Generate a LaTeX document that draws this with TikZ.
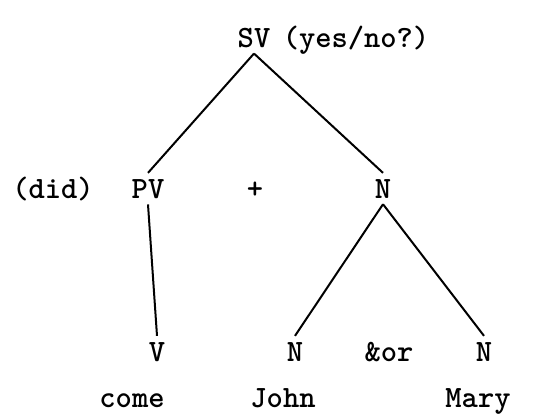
\documentclass[tikz,border=0pt]{standalone}
\usepackage{fontspec}
\usepackage{tikz}
\usetikzlibrary{positioning}
\tikzset{
  word/.style={font=\ttfamily\bfseries\fontsize{31}{37}\selectfont, anchor=base, inner sep=0pt},
  cat/.style={word, inner sep=6pt},
  branch/.style={line width=2pt, black},
}

\begin{document}
\begin{tikzpicture}[x=1pt,y=-1pt]
 \useasboundingbox (0,0) rectangle (553,415);
 % top
 \node[cat] (sv) at (254,47) {SV};
 \node[word] (svq) at (356,47) {(yes/no?)};
 % middle row
 \node[word] (did) at (53,198) {(did)};
 \node[cat] (pv) at (148,198) {PV};
 \node[word] (plus) at (255,198) {+};
 \node[cat] (n) at (383,198) {N};
 % bottom row
 \node[cat] (v) at (157,361) {V};
 \node[cat] (na) at (295,361) {N};
 \node[word] (andor) at (389,361) {\&or};
 \node[cat] (nb) at (484,361) {N};
 \node[word] (come) at (132,407) {come};
 \node[word] (john) at (283,407) {John};
 \node[word] (mary) at (478,407) {Mary};
 % branches
 \draw[branch] (sv.south) -- (pv.north);
 \draw[branch] (sv.south) -- (n.north);
 \draw[branch] (pv.south) -- (v.north);
 \draw[branch] (n.south) -- (na.north);
 \draw[branch] (n.south) -- (nb.north);
\end{tikzpicture}
\end{document}
